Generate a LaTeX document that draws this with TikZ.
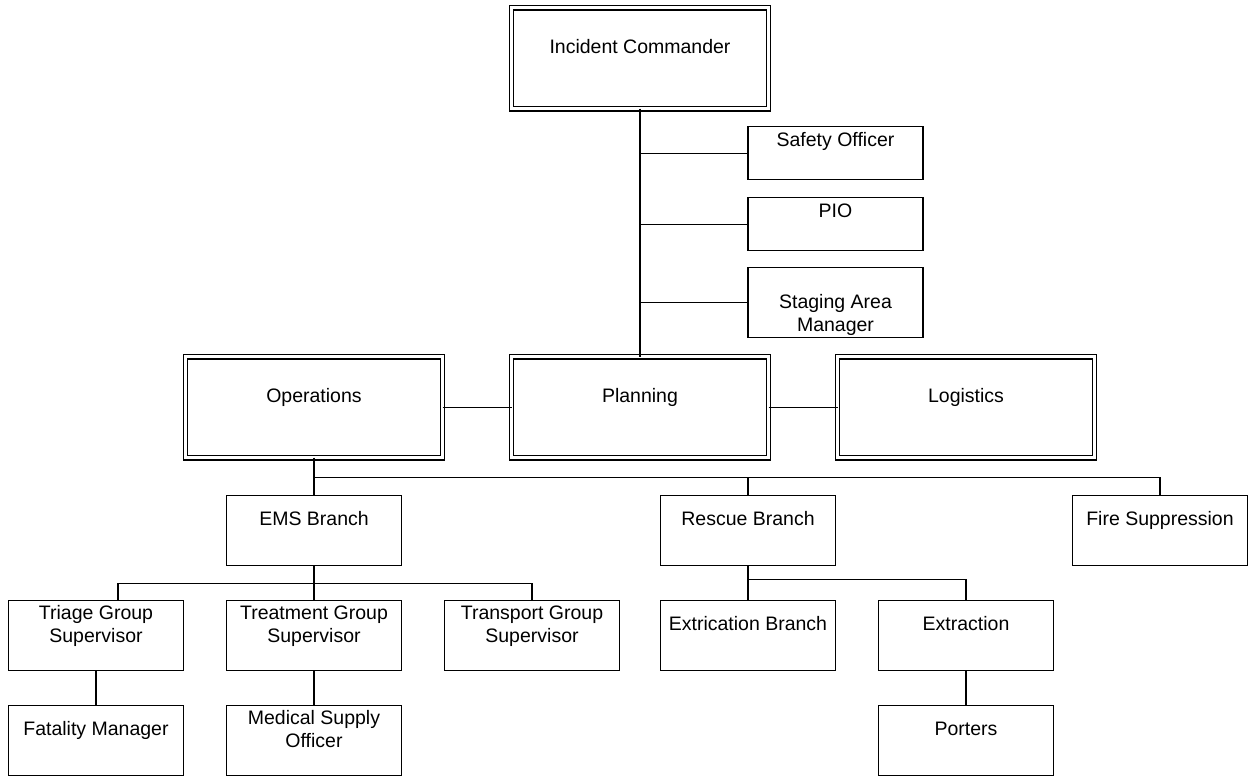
\documentclass[tikz,border=0pt]{standalone}
\usepackage{fontspec}
\setmainfont{Liberation Sans}
\usetikzlibrary{positioning, calc}

\begin{document}
\begin{tikzpicture}[node distance=17.5pt, line width=0.65pt, font=\fontsize{9.75pt}{11.4pt}\selectfont]
			% node styles
			\tikzstyle{section} = [draw, double, double distance=1.5pt, minimum width=128.5pt, inner sep=0pt, outer sep=0pt, align=center, text height=22.75pt, text depth=27.75pt]
			\tikzstyle{box} = [draw, minimum width=87.5pt, inner sep=0pt, outer sep=0pt, align=center, text height=15pt, text depth=20pt]
			\tikzstyle{twoline} = [box, text height=20.85pt, text depth=14.15pt]
			\tikzstyle{staff} = [box, text height=10pt, text depth=16.5pt]
			
			\useasboundingbox (0,0) rectangle (624.5pt,-388.5pt);
			
			% nodes
			\node [section] (ic) at (320pt,-29.1pt) {Incident Commander};
			\node [staff, below right=9pt and 54pt of ic.south] (safety) {Safety Officer};
			\node [staff, below=9pt of safety] (pio) {PIO};
			\node [staff, below=8.5pt of pio, text height=32pt, text depth=3pt] (staging) {Staging Area\\Manager};
			\node [section, below=124pt of ic] (planning) {Planning};
			\node [section, left=34.5pt of planning] (operations) {Operations};
			\node [section, right=34.5pt of planning] (logistics) {Logistics};
			\node [box, below=19pt of operations] (ems) {EMS Branch};
			\node [box, right=129.5pt of ems] (rescue) {Rescue Branch};
			\node [box, right=118.5pt of rescue] (fire) {Fire Suppression};
			\node [twoline, below=of ems] (treatment) {Treatment Group\\Supervisor};
			\node [twoline, left=21.5pt of treatment] (triage) {Triage Group\\Supervisor};
			\node [twoline, right=21.5pt of treatment] (transport) {Transport Group\\Supervisor};
			\node [box, below=of triage] (fatality) {Fatality Manager};
			\node [twoline, below=of treatment] (medical) {Medical Supply\\Officer};
			\node [box, below=of rescue] (extrication) {Extrication Branch};
			\node [box, right=21.5pt of extrication] (extraction) {Extraction};
			\node [box, below=of extraction] (porters) {Porters};
			
			% connectors
			\draw (ic) -- (planning);
			\draw (safety) -- (safety -| ic);
			\draw (pio) -- (pio -| ic);
			\draw (staging) -- (staging -| ic);
			\draw (operations) -- (planning);
			\draw (planning) -- (logistics);
			
			\coordinate (opsbus) at ($(operations.south)!.53!(ems.north)$);
			\draw (operations) -- (ems);
			\draw (opsbus) -| (rescue);
			\draw (opsbus) -| (fire);
			
			\coordinate (emsbus) at ($(ems.south)!.5!(treatment.north)$);
			\draw (ems) -- (treatment);
			\draw (emsbus) -| ([xshift=11pt]triage.north);
			\draw (emsbus) -| (transport);
			
			\coordinate (rescuebus) at ($(rescue.south)!.4!(extrication.north)$);
			\draw (rescue) -- (extrication);
			\draw (rescuebus) -| (extraction);
			
			\draw (triage) -- (fatality);
			\draw (treatment) -- (medical);
			\draw (extraction) -- (porters);
		\end{tikzpicture}
\end{document}
